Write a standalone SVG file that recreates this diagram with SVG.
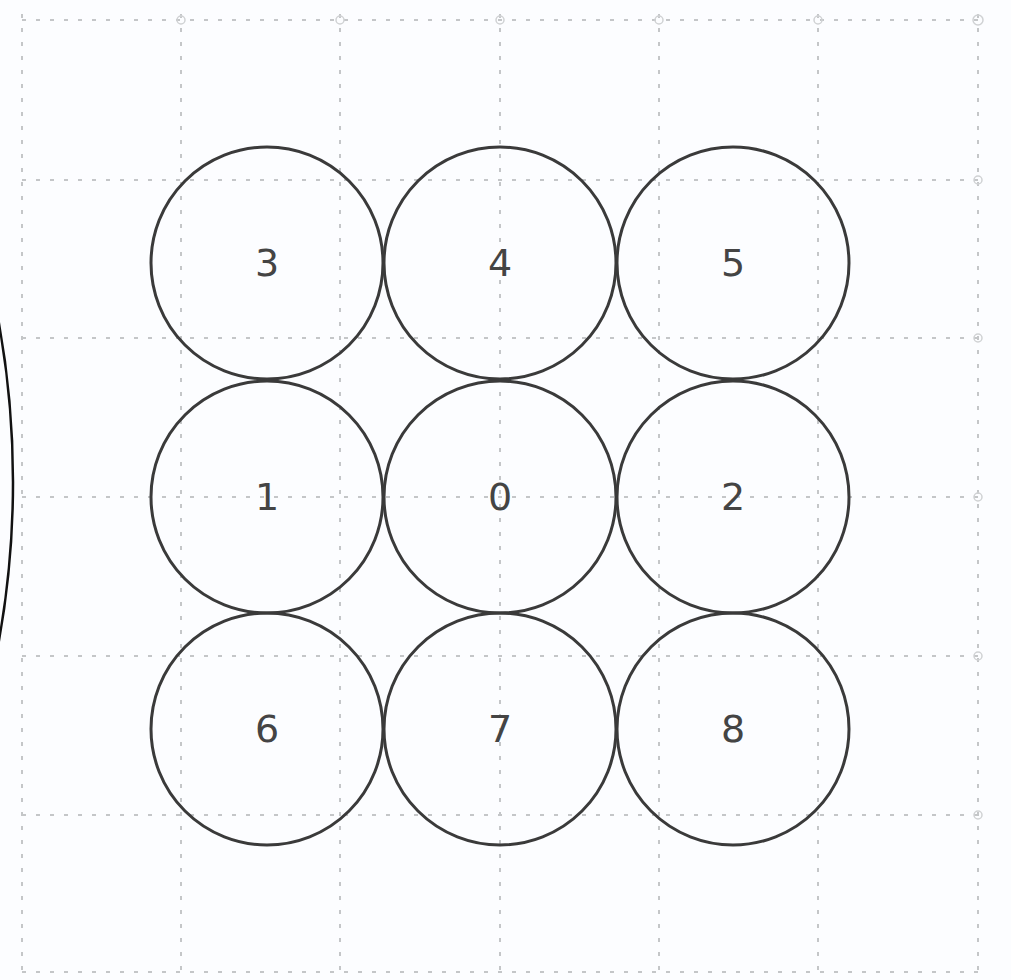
<svg xmlns="http://www.w3.org/2000/svg" width="1011" height="980" viewBox="0 0 1011 980">
<style>
.grid{stroke:#c4c6c8;stroke-width:2;stroke-dasharray:4 10;fill:none}
.tick{stroke:#d0d2d4;stroke-width:1.5;fill:none}
.node circle{fill:none;stroke:#3a3a3a;stroke-width:3}
.node text{font-family:"DejaVu Sans",sans-serif;font-size:38px;fill:#444;text-anchor:middle;dominant-baseline:central}
</style>
<rect width="1011" height="980" fill="#fcfdff"/>
<g id="grid">
<path class="grid" d="M22 20H988M22 180H988M22 338H988M22 497H988M22 656H988M22 815H988M22 972H988"/>
<path class="grid" d="M22 14V980M181 14V980M340 14V980M500 14V980M659 14V980M818 14V980M978 14V980"/>
<g class="tick">
<circle cx="181" cy="20" r="4"/><circle cx="340" cy="20" r="4"/><circle cx="500" cy="20" r="4"/><circle cx="659" cy="20" r="4"/><circle cx="818" cy="20" r="4"/><circle cx="978" cy="20" r="5"/>
<circle cx="978" cy="180" r="4"/><circle cx="978" cy="338" r="4"/><circle cx="978" cy="497" r="4"/><circle cx="978" cy="656" r="4"/><circle cx="978" cy="815" r="4"/>
</g>
</g>
<g id="outer-arc">
<circle cx="-882" cy="482" r="895" fill="none" stroke="#111" stroke-width="2.5"/>
</g>
<g id="connectors"/>
<g id="n3" class="node"><circle cx="267" cy="263" r="116"/><text x="267" y="263">3</text></g>
<g id="n4" class="node"><circle cx="500" cy="263" r="116"/><text x="500" y="263">4</text></g>
<g id="n5" class="node"><circle cx="733" cy="263" r="116"/><text x="733" y="263">5</text></g>
<g id="n1" class="node"><circle cx="267" cy="497" r="116"/><text x="267" y="497">1</text></g>
<g id="n0" class="node"><circle cx="500" cy="497" r="116"/><text x="500" y="497">0</text></g>
<g id="n2" class="node"><circle cx="733" cy="497" r="116"/><text x="733" y="497">2</text></g>
<g id="n6" class="node"><circle cx="267" cy="729" r="116"/><text x="267" y="729">6</text></g>
<g id="n7" class="node"><circle cx="500" cy="729" r="116"/><text x="500" y="729">7</text></g>
<g id="n8" class="node"><circle cx="733" cy="729" r="116"/><text x="733" y="729">8</text></g>
</svg>
